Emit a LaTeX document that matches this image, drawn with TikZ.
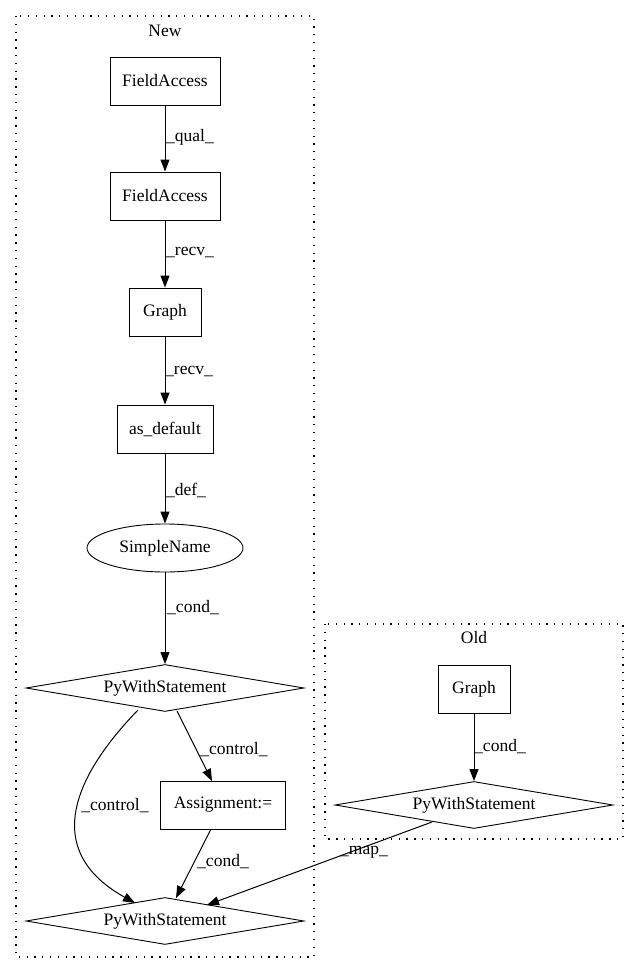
\documentclass[tikz,border=0pt]{standalone}
\usepackage{fontspec}
\setmainfont{Liberation Serif}
\usetikzlibrary{shapes.geometric,arrows.meta}
\begin{document}
\begin{tikzpicture}[x=1pt,y=-1pt,
  every node/.style={font=\fontsize{17.5}{20}\selectfont},
  box/.style={draw,line width=0.9pt,rectangle,inner sep=0pt,minimum height=48pt},
  dia/.style={draw,line width=0.9pt,diamond,inner sep=0pt,minimum width=278pt,minimum height=47pt,aspect=6},
  ell/.style={draw,line width=0.9pt,ellipse,inner sep=0pt,minimum width=156pt,minimum height=48pt},
  clus/.style={draw,line width=1.3pt,dash pattern=on 1.3pt off 6.5pt},
  edge/.style={draw,line width=1pt,-{Triangle[length=12pt,width=9pt]}},
  lab/.style={inner sep=0pt}]
\useasboundingbox (0,0) rectangle (640,972);
% clusters
\draw[clus] (16,16) rectangle (314,957);
\node (newlab) at (165,31) {New};
\draw[clus] (325,624) rectangle (623,839);
\node (oldlab) at (474,638) {Old};
% New nodes
\node[box,minimum width=110pt] (fa1) at (165,81) {FieldAccess};
\node[box,minimum width=110pt] (fa2) at (165,196) {FieldAccess};
\node[box,minimum width=72pt] (g1) at (165,312) {Graph};
\node[box,minimum width=96pt] (asd) at (165,429) {as\_default};
\node[ell] (sn) at (165,548) {SimpleName};
\node[dia] (pw1) at (165,688) {PyWithStatement};
\node[box,minimum width=125pt] (asg) at (223,805) {Assignment:=};
\node[dia] (pw2) at (165,921) {PyWithStatement};
% Old nodes
\node[box,minimum width=72pt] (g2) at (474,689) {Graph};
\node[dia] (pw3) at (474,805) {PyWithStatement};
% edges
\draw[edge] (fa1) -- (fa2);
\node[lab] (l1) at (190,137) {\_qual\_};
\draw[edge] (fa2) -- (g1);
\node[lab] (l2) at (190,253) {\_recv\_};
\draw[edge] (g1) -- (asd);
\node[lab] (l3) at (189,371) {\_recv\_};
\draw[edge] (asd) -- (sn);
\node[lab] (l4) at (186,490) {\_def\_};
\draw[edge] (sn) -- (pw1);
\node[lab] (l5) at (193,608) {\_cond\_};
\coordinate (c1s) at (138,710);
\coordinate (c1e) at (135,903);
\draw[edge] (c1s) .. controls (75,775) and (40,850) .. (c1e);
\node[lab] (l6) at (115,806) {\_control\_};
\coordinate (c2s) at (177,711);
\coordinate (c2e) at (212,781);
\draw[edge] (c2s) -- (c2e);
\node[lab] (l7) at (234,750) {\_control\_};
\coordinate (c3s) at (211,829);
\coordinate (c3e) at (176,898);
\draw[edge] (c3s) -- (c3e);
\node[lab] (l8) at (223,862) {\_cond\_};
\coordinate (c4s) at (432,822);
\coordinate (c4e) at (207,905);
\draw[edge] (c4s) -- (c4e);
\node[lab] (l9) at (364,852) {\_map\_};
\draw[edge] (g2) -- (pw3);
\node[lab] (l10) at (500,747) {\_cond\_};
\end{tikzpicture}
\end{document}
